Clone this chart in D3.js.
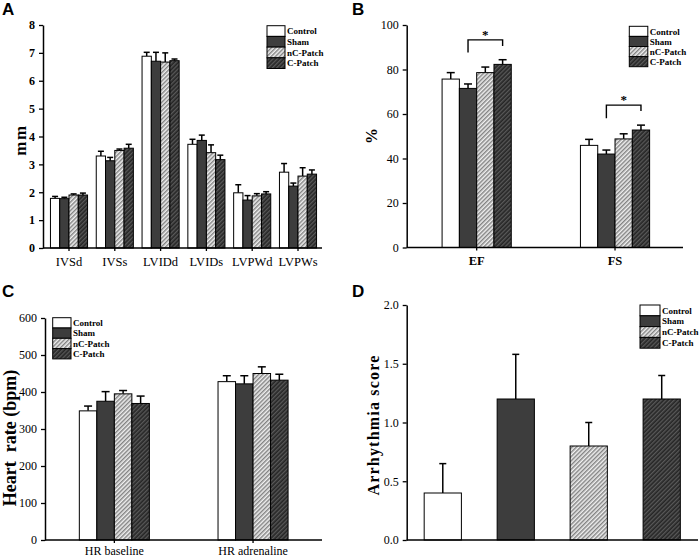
<!DOCTYPE html>
<html><head><meta charset="utf-8">
<script src="https://cdn.jsdelivr.net/npm/d3@7"></script>
<style>body{margin:0;background:#fff}svg{display:block}</style>
</head><body>
<svg id="chart" width="700" height="559"></svg>
<script>
// ---------- data ----------
const groups = ["Control", "Sham", "nC-Patch", "C-Patch"];

// Panel A (mm)
const catsA = ["IVSd", "IVSs", "LVIDd", "LVIDs", "LVPWd", "LVPWs"];
const aControl = [1.78, 3.30, 6.88, 3.72, 1.98, 2.72];
const aSham    = [1.77, 3.13, 6.70, 3.86, 1.72, 2.22];
const aNC      = [1.90, 3.50, 6.67, 3.42, 1.87, 2.58];
const aC       = [1.90, 3.58, 6.72, 3.17, 1.94, 2.65];
const aControlErr = [0.07, 0.17, 0.14, 0.18, 0.29, 0.31];
const aShamErr    = [0.05, 0.12, 0.32, 0.19, 0.16, 0.11];
const aNCErr      = [0.04, 0.05, 0.33, 0.28, 0.08, 0.30];
const aCErr       = [0.07, 0.14, 0.06, 0.16, 0.08, 0.15];
const ticksA = [0, 1, 2, 3, 4, 5, 6, 7, 8];

// Panel B (%)
const catsB = ["EF", "FS"];
const bControl = [75.7, 45.9];
const bSham    = [71.5, 42.0];
const bNC      = [78.6, 48.8];
const bC       = [82.3, 52.8];
const bControlErr = [2.9, 2.7];
const bShamErr    = [2.0, 1.8];
const bNCErr      = [2.5, 2.3];
const bCErr       = [2.1, 2.2];
const ticksB = [0, 20, 40, 60, 80, 100];
const sigB = [
  {cat: "EF", from: "Sham", to: "C-Patch", top: 93.3, leg: 87.6},
  {cat: "FS", from: "Sham", to: "C-Patch", top: 64.0, leg: 58.1}
];

// Panel C (bpm)
const catsC = ["HR baseline", "HR adrenaline"];
const cControl = [349, 428];
const cSham    = [375, 422];
const cNC      = [395, 450];
const cC       = [369, 432];
const cControlErr = [13, 16];
const cShamErr    = [26, 22];
const cNCErr      = [9, 18];
const cCErr       = [20, 16];
const ticksC = [0, 100, 200, 300, 400, 500, 600];

// Panel D (arrhythmia score)
const dMeans = [0.4, 1.2, 0.8, 1.2];
const dErr   = [0.25, 0.38, 0.2, 0.2];
const ticksD = [0.0, 0.5, 1.0, 1.5, 2.0];

// ---------- drawing ----------
const svg = d3.select("#chart");
const defs = svg.append("defs");
function hatch(id, bg, fg, w) {
  const p = defs.append("pattern").attr("id", id).attr("patternUnits", "userSpaceOnUse")
    .attr("width", 3).attr("height", 3).attr("patternTransform", "rotate(45)");
  p.append("rect").attr("width", 3).attr("height", 3).attr("fill", bg);
  p.append("line").attr("x1", 0.75).attr("y1", 0).attr("x2", 0.75).attr("y2", 3)
    .attr("stroke", fg).attr("stroke-width", w);
}
hatch("hLight", "#f0f0f0", "#777777", 1.3);
hatch("hDark", "#262626", "#6a6a6a", 1.0);
const fills = {"Control": "#ffffff", "Sham": "#3d3d3d", "nC-Patch": "url(#hLight)", "C-Patch": "url(#hDark)"};

const serif = "'Liberation Serif', 'Times New Roman', serif";
const sans = "'Liberation Sans', Arial, sans-serif";

function panelLetter(t, x, y) {
  svg.append("text").attr("x", x).attr("y", y).text(t)
    .attr("font-family", sans).attr("font-weight", "bold").attr("font-size", 17);
}

function yAxis(y, x0, ticks, fmt, bold) {
  const g = svg.append("g").attr("transform", `translate(${x0},0)`)
    .call(d3.axisLeft(y).tickValues(ticks).tickFormat(fmt).tickSize(4).tickSizeOuter(0));
  g.select(".domain").attr("stroke-width", 1.5);
  g.selectAll(".tick line").attr("stroke-width", 1.3);
  g.selectAll(".tick text").attr("font-family", serif).attr("font-size", 12)
    .attr("font-weight", bold ? "bold" : "normal").attr("fill", "#000").attr("dx", "-1");
  return g;
}

function xAxis(x, y0, xStart, xEnd, showTicks, labelFont) {
  svg.append("line").attr("x1", xStart).attr("x2", xEnd).attr("y1", y0).attr("y2", y0)
    .attr("stroke", "#000").attr("stroke-width", 1.5);
  if (!showTicks) return;
  const g = svg.append("g").attr("transform", `translate(0,${y0})`)
    .call(d3.axisBottom(x).tickSize(3).tickSizeOuter(0));
  g.select(".domain").remove();
  g.selectAll(".tick line").attr("stroke-width", 1.3);
  g.selectAll(".tick text").attr("font-family", serif).attr("font-size", labelFont.size)
    .attr("font-weight", labelFont.weight).attr("fill", "#000").attr("dy", labelFont.dy || "0.95em");
}

function yLabel(t, x, y, size, spacing) {
  svg.append("text").attr("transform", `translate(${x},${y}) rotate(-90)`)
    .attr("text-anchor", "middle").text(t).style("white-space", "pre")
    .attr("font-family", serif).attr("font-weight", "bold").attr("font-size", size)
    .attr("letter-spacing", spacing || 0);
}

function legend(x, y, w, h) {
  const g = svg.append("g");
  groups.forEach((gname, i) => {
    g.append("rect").attr("x", x).attr("y", y + i * h).attr("width", w).attr("height", h)
      .attr("fill", fills[gname]).attr("stroke", "#000").attr("stroke-width", 1);
    g.append("text").attr("x", x + w + 2).attr("y", y + i * h + h / 2 + 3.2).text(gname)
      .attr("font-family", serif).attr("font-weight", "bold").attr("font-size", 9);
  });
}

function groupedBars(cats, series, errs, x0, y, capW) {
  const x1 = d3.scaleBand().domain(groups).range([0, x0.bandwidth()]).padding(0);
  const rows = [];
  cats.forEach((c, ci) => groups.forEach((gname, gi) => {
    rows.push({cat: c, g: gname, v: series[gi][ci], e: errs[gi][ci]});
  }));
  const g = svg.append("g");
  rows.forEach(d => {
    const cx = x0(d.cat) + x1(d.g) + x1.bandwidth() / 2;
    g.append("line").attr("x1", cx).attr("x2", cx).attr("y1", y(d.v)).attr("y2", y(d.v + d.e))
      .attr("stroke", "#000").attr("stroke-width", 1.5);
    g.append("line").attr("x1", cx - capW / 2).attr("x2", cx + capW / 2)
      .attr("y1", y(d.v + d.e)).attr("y2", y(d.v + d.e))
      .attr("stroke", "#000").attr("stroke-width", 1.5);
  });
  g.selectAll("rect.bar").data(rows).join("rect").attr("class", "bar")
    .attr("x", d => x0(d.cat) + x1(d.g)).attr("width", x1.bandwidth())
    .attr("y", d => y(d.v)).attr("height", d => y(0) - y(d.v))
    .attr("fill", d => fills[d.g]).attr("stroke", "#000").attr("stroke-width", 1);
  return x1;
}

// ---- Panel A ----
{
  const y = d3.scaleLinear().domain([0, 8]).range([248, 25]);
  const x0 = d3.scaleBand().domain(catsA).range([46.1, 320.9]).paddingInner(0.19).paddingOuter(0.095);
  groupedBars(catsA, [aControl, aSham, aNC, aC], [aControlErr, aShamErr, aNCErr, aCErr], x0, y, 6);
  xAxis(x0, 248, 43, 322, true, {size: 12.5, weight: "normal"});
  yAxis(y, 43, ticksA, d3.format("d"), true);
  yLabel("mm", 26, 140, 17, 1.5);
  legend(267, 25.7, 18, 10.7);
  panelLetter("A", 2, 15);
}

// ---- Panel B ----
{
  const y = d3.scaleLinear().domain([0, 100]).range([247.5, 25]);
  const x0 = d3.scaleBand().domain(catsB).range([407.5, 684.2]).paddingInner(0.5).paddingOuter(0.25);
  const x1 = groupedBars(catsB, [bControl, bSham, bNC, bC], [bControlErr, bShamErr, bNCErr, bCErr], x0, y, 8);
  xAxis(x0, 247.5, 406.7, 683, true, {size: 12.5, weight: "bold"});
  yAxis(y, 406.7, ticksB, d3.format("d"), false);
  yLabel("%", 377, 136, 16);
  legend(629.3, 26.3, 18.5, 10.1);
  sigB.forEach(s => {
    const xa = x0(s.cat) + x1(s.from) + x1.bandwidth() / 2;
    const xb = x0(s.cat) + x1(s.to) + x1.bandwidth() / 2;
    svg.append("path")
      .attr("d", `M${xa},${y(s.leg)}V${y(s.top)}H${xb}V${y(s.top) + 6}`)
      .attr("fill", "none").attr("stroke", "#000").attr("stroke-width", 1.4);
    svg.append("text").attr("x", (xa + xb) / 2).attr("y", y(s.top) - 1).attr("text-anchor", "middle")
      .text("*").attr("font-family", serif).attr("font-weight", "bold").attr("font-size", 13);
  });
  panelLetter("B", 352, 15);
}

// ---- Panel C ----
{
  const y = d3.scaleLinear().domain([0, 600]).range([540, 318]);
  const x0 = d3.scaleBand().domain(catsC).range([45, 322.4]).paddingInner(0.495).paddingOuter(0.2475);
  groupedBars(catsC, [cControl, cSham, cNC, cC], [cControlErr, cShamErr, cNCErr, cCErr], x0, y, 8);
  xAxis(x0, 540, 45, 322, true, {size: 12, weight: "normal", dy: "0.72em"});
  yAxis(y, 45, ticksC, d3.format("d"), false);
  yLabel("Heart  rate (bpm)", 16, 438, 18);
  legend(52.7, 317.7, 18.3, 10.3);
  panelLetter("C", 2, 297);
}

// ---- Panel D ----
{
  const y = d3.scaleLinear().domain([0, 2]).range([540, 305]);
  const x = d3.scaleBand().domain(groups).range([406.3, 698.2]).paddingInner(0.49).paddingOuter(0.245);
  const g = svg.append("g");
  groups.forEach((gname, i) => {
    const cx = x(gname) + x.bandwidth() / 2;
    g.append("line").attr("x1", cx).attr("x2", cx).attr("y1", y(dMeans[i])).attr("y2", y(dMeans[i] + dErr[i]))
      .attr("stroke", "#000").attr("stroke-width", 1.5);
    g.append("line").attr("x1", cx - 3.5).attr("x2", cx + 3.5)
      .attr("y1", y(dMeans[i] + dErr[i])).attr("y2", y(dMeans[i] + dErr[i]))
      .attr("stroke", "#000").attr("stroke-width", 1.5);
  });
  g.selectAll("rect").data(groups).join("rect")
    .attr("x", d => x(d)).attr("width", x.bandwidth())
    .attr("y", (d, i) => y(dMeans[i])).attr("height", (d, i) => y(0) - y(dMeans[i]))
    .attr("fill", d => fills[d]).attr("stroke", "#000").attr("stroke-width", 1);
  xAxis(x, 540, 406.7, 698, false);
  yAxis(y, 406.7, ticksD, d3.format(".1f"), false);
  yLabel("Arrhythmia score", 379, 425, 16, 1.2);
  legend(640, 305, 20, 10.8);
  panelLetter("D", 352, 297);
}
</script>
</body></html>
